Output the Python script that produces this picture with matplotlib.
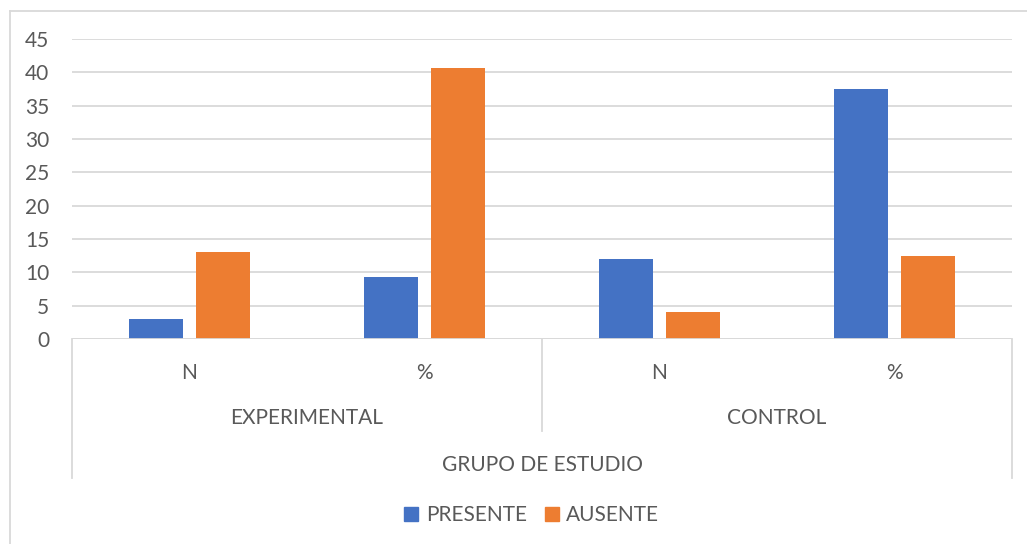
import matplotlib
matplotlib.use("Agg")
import numpy as np
import matplotlib.pyplot as plt
from matplotlib.patches import Rectangle
from matplotlib.lines import Line2D

# ---------- data ----------
groups = ["EXPERIMENTAL", "CONTROL"]
measures = ["N", "%"]
presente = [3, 9.375, 12, 37.5]
ausente = [13, 40.625, 4, 12.5]
y_ticks = [0, 5, 10, 15, 20, 25, 30, 35, 40, 45]
axis_title = "GRUPO DE ESTUDIO"
series_names = ["PRESENTE", "AUSENTE"]

BLUE = "#4472C4"
ORANGE = "#ED7D31"
GRID = "#D9D9D9"
TEXT = "#595959"
FS = 15

plt.rcParams["font.family"] = ["Lato", "DejaVu Sans"]

W, H = 1027, 544
fig = plt.figure(figsize=(W / 100, H / 100), dpi=100)

# pixel helpers (origin top-left)
def fx(px):
    return px / W

def fy(py):
    return 1 - py / H

left, right, top, bottom = 72, 1012, 39, 339
ax = fig.add_axes([fx(left), fy(bottom), fx(right - left), (bottom - top) / H])

# chart frame (only left and top edges fall inside the image)
fig.add_artist(Line2D([fx(9.5), fx(9.5)], [fy(11), fy(H + 5)], color=GRID, lw=1.3))
fig.add_artist(Line2D([fx(9.5), fx(W + 5)], [fy(11), fy(11)], color=GRID, lw=1.3))

n = len(presente)
x = np.arange(n)
bw = 0.226
off = 0.1426
ax.bar(x - off, presente, bw, color=BLUE, zorder=3)
ax.bar(x + off, ausente, bw, color=ORANGE, zorder=3)

ax.set_xlim(-0.5, n - 0.5)
ax.set_ylim(0, 45)
ax.set_yticks(y_ticks)
ax.set_yticklabels([str(t) for t in y_ticks])
ax.tick_params(axis="y", length=0, pad=16.5, labelsize=FS, labelcolor=TEXT)
ax.set_xticks([])
ax.yaxis.grid(True, color=GRID, lw=1.3, zorder=0)
for s in ax.spines.values():
    s.set_visible(False)
ax.axhline(0, color=GRID, lw=1.3, zorder=4)

# multi-level category axis
def vline(px_x, py0, py1):
    fig.add_artist(Line2D([fx(px_x), fx(px_x)], [fy(py0), fy(py1)], color=GRID, lw=1.3))

cat_w = (right - left) / n
vline(left, bottom, 478)
vline(left + 2 * cat_w, bottom, 431)
vline(right, bottom, 478)

labels = measures * len(groups)
for i, lab in enumerate(labels):
    fig.text(fx(left + (i + 0.5) * cat_w), fy(373), lab, ha="center", va="center",
             fontsize=FS, color=TEXT)
for j, g in enumerate(groups):
    fig.text(fx(left + (2 * j + 1) * cat_w), fy(418), g, ha="center", va="center",
             fontsize=FS, color=TEXT)
fig.text(fx((left + right) / 2), fy(465), axis_title, ha="center", va="center",
         fontsize=FS, color=TEXT)

# legend
legend_items = [(404, 426, BLUE, series_names[0]), (545, 566, ORANGE, series_names[1])]
for sx, tx, col, name in legend_items:
    fig.add_artist(Rectangle((fx(sx), fy(521)), fx(14), 14 / H, color=col,
                             transform=fig.transFigure))
    fig.text(fx(tx), fy(515), name, ha="left", va="center", fontsize=FS, color=TEXT)

fig.savefig("out.png", dpi=100)
